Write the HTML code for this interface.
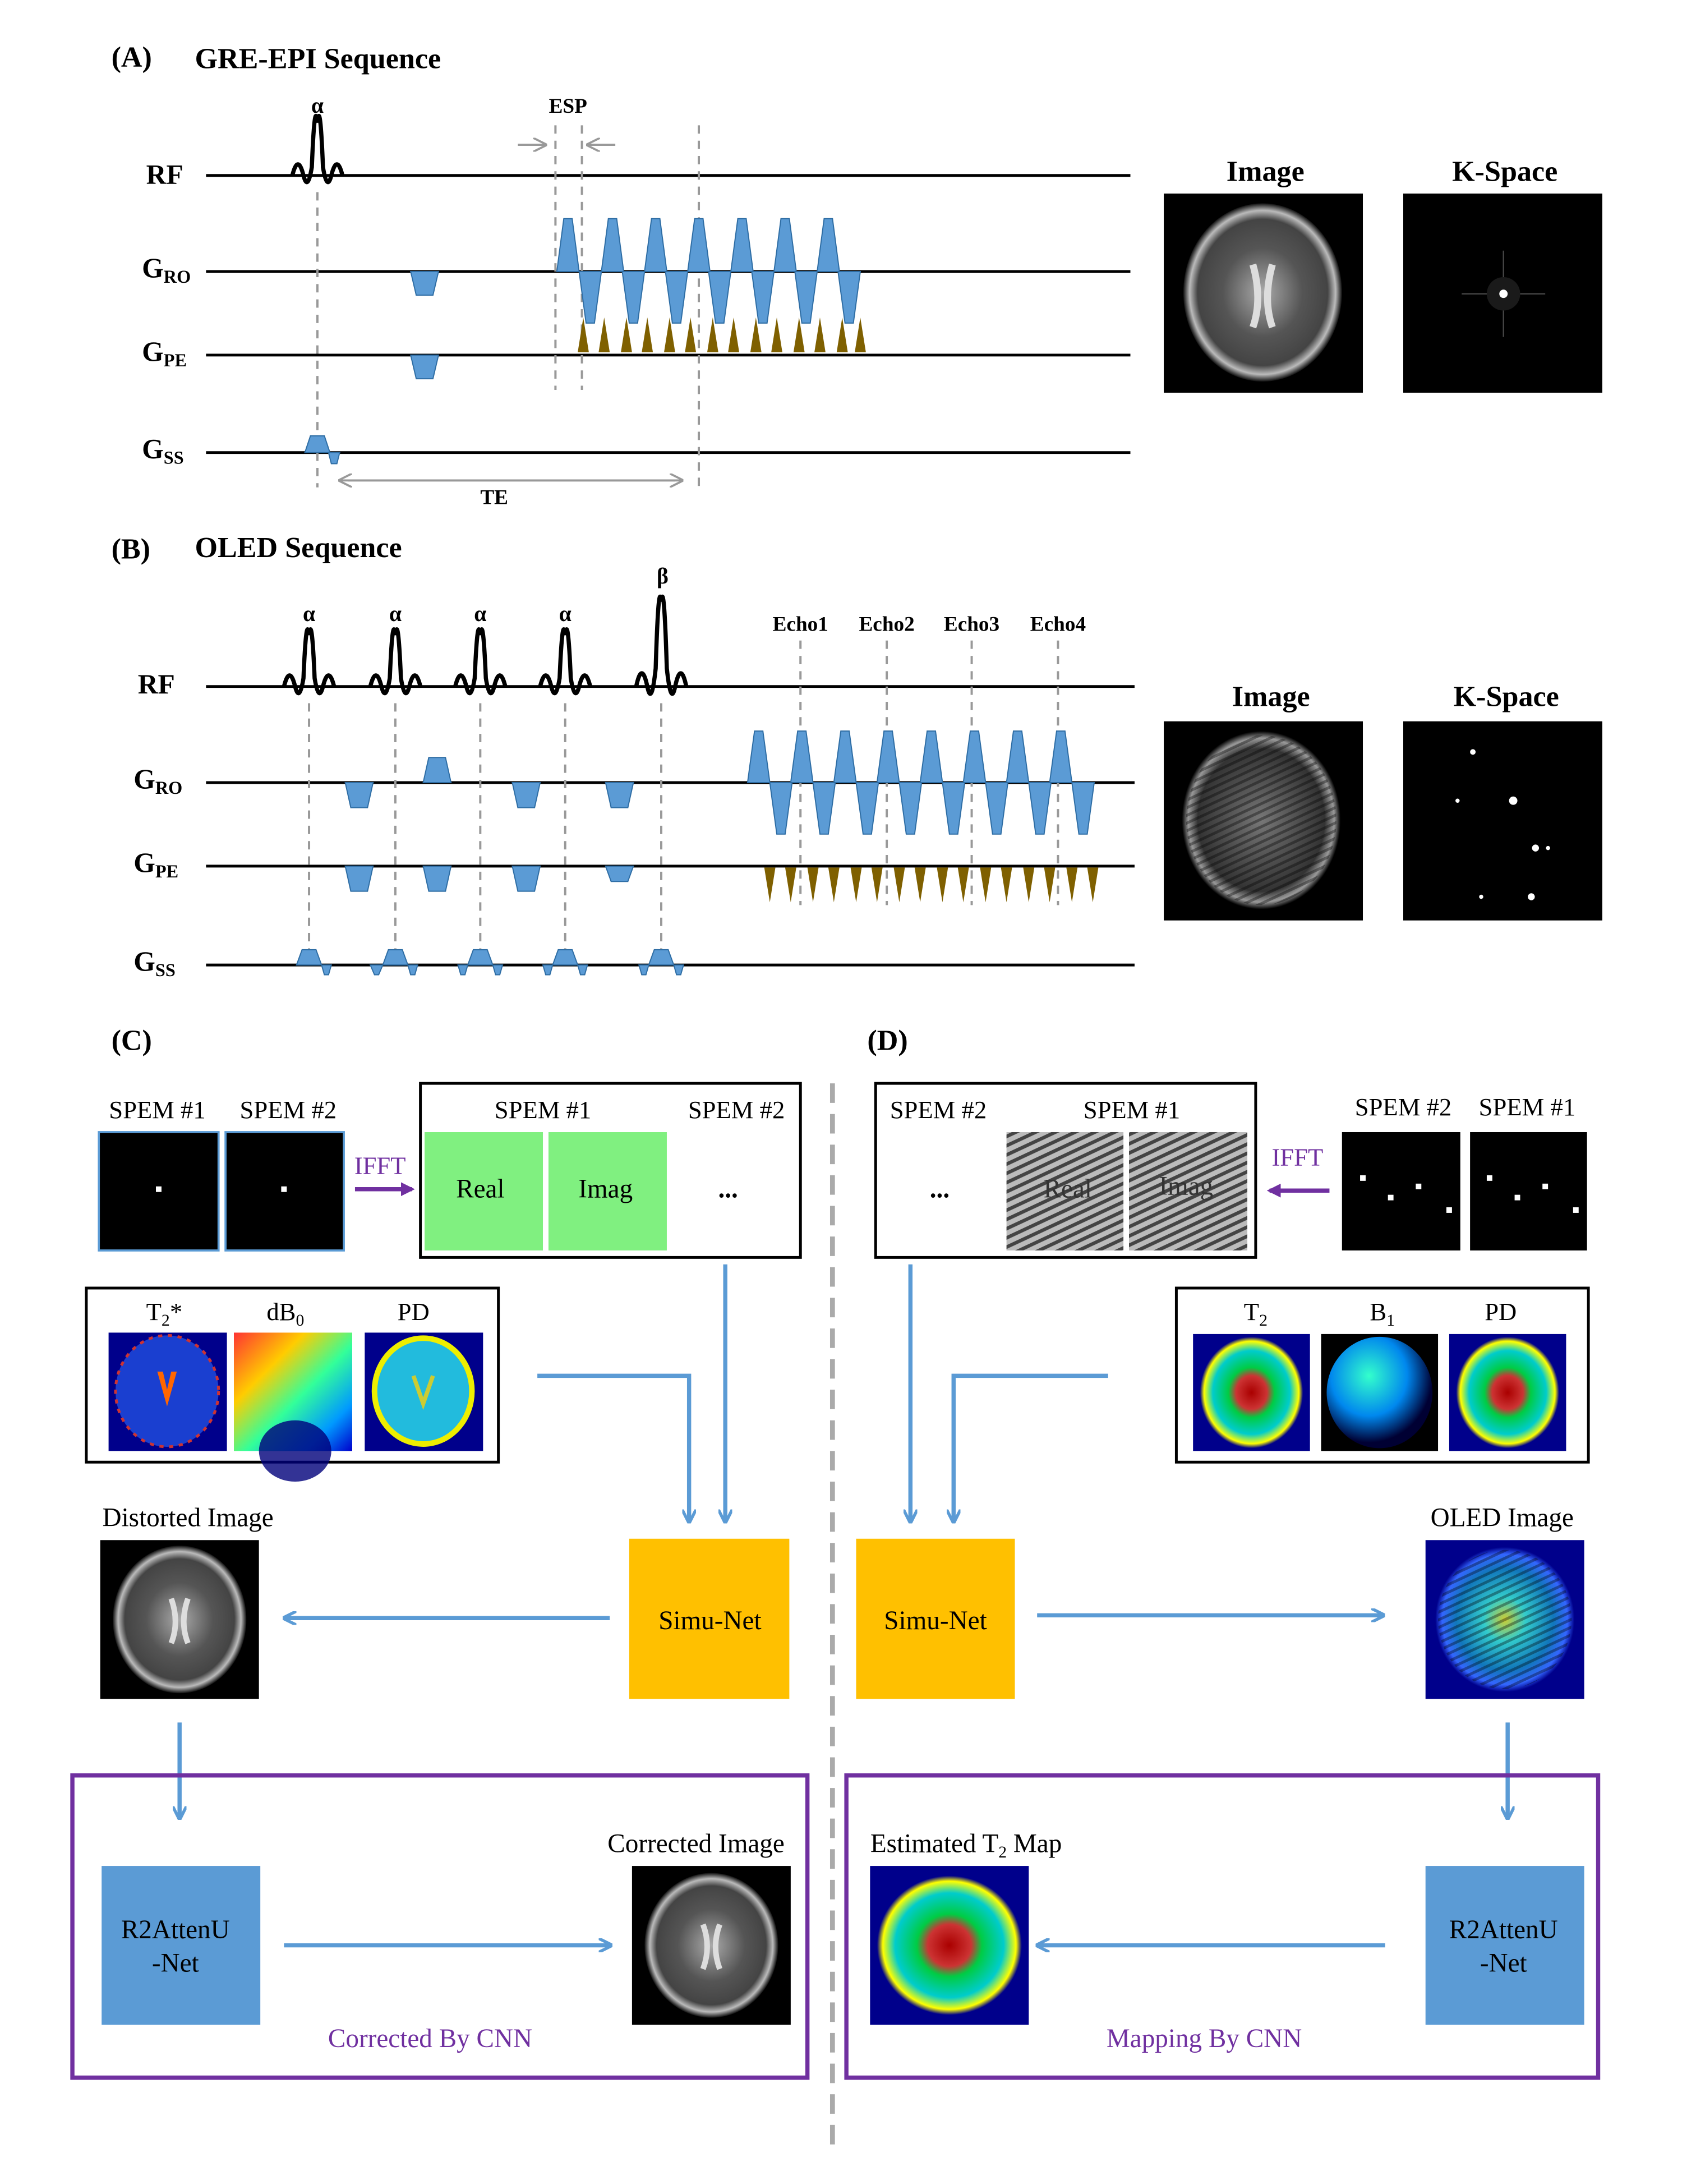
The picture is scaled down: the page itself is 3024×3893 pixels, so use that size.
<!DOCTYPE html>
<html><head><meta charset="utf-8"><style>
html,body{margin:0;padding:0;background:#fff}
svg{display:block}
text{font-family:"Liberation Serif",serif}
</style></head><body>
<svg width="3024" height="3893" viewBox="0 0 1218.3 1568.4" xmlns="http://www.w3.org/2000/svg">
<defs>
<marker id="ab" markerWidth="10" markerHeight="10" refX="9" refY="5" orient="auto" markerUnits="userSpaceOnUse"><path d="M0,0 L10,5 L0,10" fill="none" stroke="#5b9bd5" stroke-width="2.2"/></marker>
<marker id="ap" markerWidth="10" markerHeight="10" refX="8" refY="5" orient="auto" markerUnits="userSpaceOnUse"><path d="M0,0 L10,5 L0,10 z" fill="#7030a0"/></marker>
<marker id="ag" markerWidth="10" markerHeight="10" refX="9" refY="5" orient="auto" markerUnits="userSpaceOnUse"><path d="M0,0 L10,5 L0,10" fill="none" stroke="#999" stroke-width="1.5"/></marker>
<radialGradient id="brain" cx="50%" cy="50%" r="50%"><stop offset="0" stop-color="#aaa"/><stop offset="0.5" stop-color="#555"/><stop offset="0.82" stop-color="#444"/><stop offset="0.92" stop-color="#bbb"/><stop offset="1" stop-color="#111"/></radialGradient>
<radialGradient id="brainb" cx="50%" cy="50%" r="50%"><stop offset="0" stop-color="#777"/><stop offset="0.8" stop-color="#333"/><stop offset="0.92" stop-color="#999"/><stop offset="1" stop-color="#000"/></radialGradient>
<radialGradient id="cmap" cx="50%" cy="50%" r="50%"><stop offset="0" stop-color="#a00"/><stop offset="0.3" stop-color="#c33"/><stop offset="0.45" stop-color="#0c4"/><stop offset="0.75" stop-color="#0cc"/><stop offset="0.92" stop-color="#ff0"/><stop offset="1" stop-color="#00008b"/></radialGradient>
<radialGradient id="cmap2" cx="50%" cy="50%" r="50%"><stop offset="0" stop-color="#cc3"/><stop offset="0.3" stop-color="#3cc"/><stop offset="0.7" stop-color="#17b"/><stop offset="0.9" stop-color="#36f"/><stop offset="1" stop-color="#00008b"/></radialGradient>
<radialGradient id="b1" cx="40%" cy="35%" r="60%"><stop offset="0" stop-color="#3fc"/><stop offset="0.6" stop-color="#08e"/><stop offset="1" stop-color="#003"/></radialGradient>
<linearGradient id="db0" x1="0" y1="0" x2="1" y2="1"><stop offset="0" stop-color="#f33"/><stop offset="0.3" stop-color="#fc0"/><stop offset="0.55" stop-color="#3f9"/><stop offset="0.8" stop-color="#09f"/><stop offset="1" stop-color="#00c"/></linearGradient>
<pattern id="stripe" width="6" height="6" patternUnits="userSpaceOnUse" patternTransform="rotate(-25)"><rect width="6" height="6" fill="#bbb"/><rect width="6" height="2.5" fill="#444"/></pattern>
<pattern id="stripe2" width="5" height="5" patternUnits="userSpaceOnUse" patternTransform="rotate(-25)"><rect width="5" height="5" fill="none"/><rect width="5" height="2" fill="#000" opacity="0.35"/></pattern>
</defs>

<!-- (A) -->
<text x="80" y="48" font-size="21" font-weight="bold">(A)</text>
<text x="140" y="49" font-size="21" font-weight="bold">GRE-EPI Sequence</text>
<g stroke="#000" stroke-width="2">
<line x1="148" y1="126" x2="812" y2="126"/><line x1="148" y1="195" x2="812" y2="195"/>
<line x1="148" y1="255" x2="812" y2="255"/><line x1="148" y1="325" x2="812" y2="325"/>
</g>
<g font-size="20" font-weight="bold"><text x="105" y="132">RF</text>
<text x="102" y="199">G<tspan font-size="13" dy="4">RO</tspan></text>
<text x="102" y="259">G<tspan font-size="13" dy="4">PE</tspan></text>
<text x="102" y="329">G<tspan font-size="13" dy="4">SS</tspan></text></g>
<path d="M210,126 Q214,110 218,126 Q221,138 224,120 Q226,70 228,88 Q230,70 232,120 Q235,138 238,126 Q242,110 246,126" fill="none" stroke="#000" stroke-width="3"/>
<text x="228" y="81" font-size="16" font-weight="bold" text-anchor="middle" font-family="Liberation Sans">α</text>
<g stroke="#999" stroke-width="1.6" stroke-dasharray="6,5" fill="none">
<line x1="228" y1="138" x2="228" y2="350"/><line x1="399" y1="90" x2="399" y2="280"/><line x1="418" y1="90" x2="418" y2="280"/><line x1="502" y1="90" x2="502" y2="350"/></g>
<line x1="372" y1="104" x2="392" y2="104" stroke="#999" stroke-width="1.5" marker-end="url(#ag)"/>
<line x1="442" y1="104" x2="422" y2="104" stroke="#999" stroke-width="1.5" marker-end="url(#ag)"/>
<text x="408" y="81" font-size="15" font-weight="bold" text-anchor="middle">ESP</text>
<line x1="250" y1="345" x2="490" y2="345" stroke="#999" stroke-width="1.5" marker-end="url(#ag)"/>
<line x1="485" y1="345" x2="244" y2="345" stroke="#999" stroke-width="1.5" marker-end="url(#ag)"/>
<text x="355" y="362" font-size="15" font-weight="bold" text-anchor="middle">TE</text>
<g fill="#5b9bd5" stroke="#2e6da4" stroke-width="0.8">
<path d="M295,195 L315,195 L311,212 L299,212 z"/><path d="M295,255 L315,255 L311,272 L299,272 z"/>
<path d="M219,325 L223,313 L233,313 L237,325 z"/><path d="M236,325 L244,325 L242,333 L238,333 z"/>
<path d="M400,195 L405,157 L411,157 L416,195 z"/><path d="M432,195 L437,157 L443,157 L448,195 z"/><path d="M463,195 L468,157 L474,157 L479,195 z"/><path d="M494,195 L499,157 L505,157 L510,195 z"/><path d="M525,195 L530,157 L536,157 L541,195 z"/><path d="M556,195 L561,157 L567,157 L572,195 z"/><path d="M587,195 L592,157 L598,157 L603,195 z"/>
<path d="M416,195 L421,232 L427,232 L432,195 z"/><path d="M447,195 L452,232 L458,232 L463,195 z"/><path d="M478,195 L483,232 L489,232 L494,195 z"/><path d="M509,195 L514,232 L520,232 L525,195 z"/><path d="M540,195 L545,232 L551,232 L556,195 z"/><path d="M571,195 L576,232 L582,232 L587,195 z"/><path d="M602,195 L607,232 L613,232 L618,195 z"/>
</g>
<g fill="#7f6000">
<path d="M415,253 L419,228 L423,253z"/><path d="M430,253 L434,228 L438,253z"/><path d="M446,253 L450,228 L454,253z"/><path d="M461,253 L465,228 L469,253z"/><path d="M477,253 L481,228 L485,253z"/><path d="M492,253 L496,228 L500,253z"/><path d="M508,253 L512,228 L516,253z"/><path d="M523,253 L527,228 L531,253z"/><path d="M539,253 L543,228 L547,253z"/><path d="M554,253 L558,228 L562,253z"/><path d="M570,253 L574,228 L578,253z"/><path d="M585,253 L589,228 L593,253z"/><path d="M601,253 L605,228 L609,253z"/><path d="M614,253 L618,228 L622,253z"/>
</g>
<text x="909" y="130" font-size="21" font-weight="bold" text-anchor="middle">Image</text>
<text x="1081" y="130" font-size="21" font-weight="bold" text-anchor="middle">K-Space</text>
<rect x="836" y="139" width="143" height="143" fill="#000"/>
<ellipse cx="907" cy="210" rx="57" ry="64" fill="url(#brain)"/>
<path d="M900,190 Q907,215 900,235 M914,190 Q907,215 914,235" stroke="#ddd" stroke-width="5" fill="none"/>
<rect x="1008" y="139" width="143" height="143" fill="#000"/>
<g stroke="#444" stroke-width="1"><line x1="1080" y1="180" x2="1080" y2="242"/><line x1="1050" y1="211" x2="1110" y2="211"/></g>
<circle cx="1080" cy="211" r="12" fill="#1a1a1a"/><circle cx="1080" cy="211" r="3" fill="#fff"/>

<!-- (B) -->
<text x="80" y="401" font-size="21" font-weight="bold">(B)</text>
<text x="140" y="400" font-size="21" font-weight="bold">OLED Sequence</text>
<g stroke="#000" stroke-width="2">
<line x1="148" y1="493" x2="815" y2="493"/><line x1="148" y1="562" x2="815" y2="562"/>
<line x1="148" y1="622" x2="815" y2="622"/><line x1="148" y1="693" x2="815" y2="693"/></g>
<g font-size="20" font-weight="bold"><text x="99" y="498">RF</text>
<text x="96" y="566">G<tspan font-size="13" dy="4">RO</tspan></text>
<text x="96" y="626">G<tspan font-size="13" dy="4">PE</tspan></text>
<text x="96" y="697">G<tspan font-size="13" dy="4">SS</tspan></text></g>
<g fill="none" stroke="#000" stroke-width="3">
<path d="M204,493 Q208,477 212,493 Q215,505 218,487 Q220,440 222,456 Q224,440 226,487 Q229,505 232,493 Q236,477 240,493"/>
<path d="M266,493 Q270,477 274,493 Q277,505 280,487 Q282,440 284,456 Q286,440 288,487 Q291,505 294,493 Q298,477 302,493"/>
<path d="M327,493 Q331,477 335,493 Q338,505 341,487 Q343,440 345,456 Q347,440 349,487 Q352,505 355,493 Q359,477 363,493"/>
<path d="M388,493 Q392,477 396,493 Q399,505 402,487 Q404,440 406,456 Q408,440 410,487 Q413,505 416,493 Q420,477 424,493"/>
<path d="M457,493 Q461,474 465,493 Q468,508 471,480 Q473,415 475,432 Q477,415 479,480 Q482,508 485,493 Q489,474 493,493"/></g>
<g font-size="16" font-weight="bold" text-anchor="middle" font-family="Liberation Sans">
<text x="222" y="446">α</text><text x="284" y="446">α</text><text x="345" y="446">α</text><text x="406" y="446">α</text><text x="476" y="419">β</text></g>
<g font-size="15" font-weight="bold" text-anchor="middle"><text x="575" y="453">Echo1</text><text x="637" y="453">Echo2</text><text x="698" y="453">Echo3</text><text x="760" y="453">Echo4</text></g>
<g stroke="#999" stroke-width="1.6" stroke-dasharray="6,5">
<line x1="222" y1="505" x2="222" y2="688"/><line x1="284" y1="505" x2="284" y2="688"/><line x1="345" y1="505" x2="345" y2="688"/><line x1="406" y1="505" x2="406" y2="688"/><line x1="475" y1="505" x2="475" y2="688"/>
<line x1="575" y1="460" x2="575" y2="650"/><line x1="637" y1="460" x2="637" y2="650"/><line x1="698" y1="460" x2="698" y2="650"/><line x1="760" y1="460" x2="760" y2="650"/></g>
<g fill="#5b9bd5" stroke="#2e6da4" stroke-width="0.8">
<path d="M248,562 L268,562 L264,580 L252,580z"/><path d="M368,562 L388,562 L384,580 L372,580z"/><path d="M435,562 L455,562 L451,580 L439,580z"/>
<path d="M304,562 L308,544 L320,544 L324,562z"/>
<path d="M248,622 L268,622 L264,640 L252,640z"/><path d="M304,622 L324,622 L320,640 L308,640z"/><path d="M368,622 L388,622 L384,640 L372,640z"/><path d="M435,622 L455,622 L451,633 L439,633z"/>
<path d="M213,693 L217,682 L227,682 L231,693z"/><path d="M231,693 L238,693 L236,700 L233,700z"/>
<path d="M275,693 L279,682 L289,682 L293,693z"/><path d="M266,693 L275,693 L272,700 L269,700z"/><path d="M293,693 L300,693 L298,700 L295,700z"/>
<path d="M336,693 L340,682 L350,682 L354,693z"/><path d="M354,693 L361,693 L359,700 L356,700z"/><path d="M329,693 L336,693 L334,700 L331,700z"/>
<path d="M397,693 L401,682 L411,682 L415,693z"/><path d="M415,693 L422,693 L420,700 L417,700z"/><path d="M390,693 L397,693 L395,700 L392,700z"/>
<path d="M466,693 L470,682 L480,682 L484,693z"/><path d="M484,693 L491,693 L489,700 L486,700z"/><path d="M459,693 L466,693 L464,700 L461,700z"/>
<path d="M537,562 L542,525 L548,525 L553,562z"/><path d="M568,562 L573,525 L579,525 L584,562z"/><path d="M599,562 L604,525 L610,525 L615,562z"/><path d="M630,562 L635,525 L641,525 L646,562z"/><path d="M661,562 L666,525 L672,525 L677,562z"/><path d="M692,562 L697,525 L703,525 L708,562z"/><path d="M723,562 L728,525 L734,525 L739,562z"/><path d="M754,562 L759,525 L765,525 L770,562z"/>
<path d="M553,562 L558,599 L564,599 L569,562z"/><path d="M584,562 L589,599 L595,599 L600,562z"/><path d="M615,562 L620,599 L626,599 L631,562z"/><path d="M646,562 L651,599 L657,599 L662,562z"/><path d="M677,562 L682,599 L688,599 L693,562z"/><path d="M708,562 L713,599 L719,599 L724,562z"/><path d="M739,562 L744,599 L750,599 L755,562z"/><path d="M770,562 L775,599 L781,599 L786,562z"/>
</g>
<g fill="#7f6000">
<path d="M549,623 L553,648 L557,623z"/><path d="M564,623 L568,648 L572,623z"/><path d="M580,623 L584,648 L588,623z"/><path d="M595,623 L599,648 L603,623z"/><path d="M611,623 L615,648 L619,623z"/><path d="M626,623 L630,648 L634,623z"/><path d="M642,623 L646,648 L650,623z"/><path d="M657,623 L661,648 L665,623z"/><path d="M673,623 L677,648 L681,623z"/><path d="M688,623 L692,648 L696,623z"/><path d="M704,623 L708,648 L712,623z"/><path d="M719,623 L723,648 L727,623z"/><path d="M735,623 L739,648 L743,623z"/><path d="M750,623 L754,648 L758,623z"/><path d="M766,623 L770,648 L774,623z"/><path d="M781,623 L785,648 L789,623z"/>
</g>
<text x="913" y="507" font-size="21" font-weight="bold" text-anchor="middle">Image</text>
<text x="1082" y="507" font-size="21" font-weight="bold" text-anchor="middle">K-Space</text>
<rect x="836" y="518" width="143" height="143" fill="#000"/>
<ellipse cx="906" cy="589" rx="57" ry="64" fill="url(#brainb)"/>
<ellipse cx="906" cy="589" rx="54" ry="61" fill="url(#stripe2)"/>
<rect x="1008" y="518" width="143" height="143" fill="#000"/>
<g fill="#fff"><circle cx="1058" cy="540" r="2"/><circle cx="1087" cy="575" r="3"/><circle cx="1103" cy="609" r="2.5"/><circle cx="1047" cy="575" r="1.5"/><circle cx="1112" cy="609" r="1.5"/><circle cx="1100" cy="644" r="2.5"/><circle cx="1064" cy="644" r="1.5"/></g>

<!-- divider -->
<line x1="598" y1="778" x2="598" y2="1542" stroke="#aaa" stroke-width="3.5" stroke-dasharray="14,8"/>

<!-- (C) -->
<text x="80" y="754" font-size="21" font-weight="bold">(C)</text>
<text x="623" y="754" font-size="21" font-weight="bold">(D)</text>
<g font-size="18" text-anchor="middle">
<text x="113" y="803">SPEM #1</text><text x="207" y="803">SPEM #2</text>
<text x="390" y="803">SPEM #1</text><text x="529" y="803">SPEM #2</text>
<text x="674" y="803">SPEM #2</text><text x="813" y="803">SPEM #1</text>
<text x="1008" y="801">SPEM #2</text><text x="1097" y="801">SPEM #1</text>
</g>
<rect x="71" y="813" width="86" height="85" fill="#000" stroke="#5b9bd5" stroke-width="1.5"/>
<rect x="162" y="813" width="85" height="85" fill="#000" stroke="#5b9bd5" stroke-width="1.5"/>
<rect x="112" y="852" width="4" height="4" fill="#fff"/><rect x="202" y="852" width="4" height="4" fill="#fff"/>
<text x="273" y="843" font-size="18" fill="#7030a0" text-anchor="middle">IFFT</text>
<line x1="255" y1="854" x2="296" y2="854" stroke="#7030a0" stroke-width="3" marker-end="url(#ap)"/>
<rect x="302" y="778" width="273" height="125" fill="none" stroke="#000" stroke-width="2"/>
<rect x="305" y="813" width="85" height="85" fill="#80f080"/><rect x="394" y="813" width="85" height="85" fill="#80f080"/>
<g font-size="19" text-anchor="middle"><text x="345" y="860">Real</text><text x="435" y="860">Imag</text><text x="523" y="860" font-weight="bold">...</text></g>

<rect x="62" y="925" width="296" height="125" fill="none" stroke="#000" stroke-width="2"/>
<g font-size="18" text-anchor="middle"><text x="118" y="948">T<tspan font-size="12" dy="4">2</tspan><tspan dy="-4">*</tspan></text><text x="205" y="948">dB<tspan font-size="12" dy="4">0</tspan></text><text x="297" y="948">PD</text></g>
<rect x="78" y="957" width="85" height="85" fill="#00008b"/><ellipse cx="120" cy="999" rx="37" ry="40" fill="#1a3fd0"/><ellipse cx="120" cy="999" rx="37" ry="40" fill="none" stroke="#c33" stroke-width="2" stroke-dasharray="3,4"/>
<path d="M113,985 L120,1010 L127,985 L123,985 L120,998 L117,985z" fill="#f60"/>
<rect x="168" y="957" width="85" height="85" fill="url(#db0)"/><ellipse cx="212" cy="1042" rx="26" ry="22" fill="#00007a" opacity="0.8"/>
<rect x="262" y="957" width="85" height="85" fill="#00008b"/><ellipse cx="304" cy="999" rx="37" ry="40" fill="#ee0"/><ellipse cx="304" cy="999" rx="33" ry="36" fill="#2bd"/><path d="M297,988 L304,1008 L311,988" stroke="#cc3" stroke-width="3" fill="none"/>

<g stroke="#5b9bd5" stroke-width="3" fill="none">
<polyline points="386,988 495,988 495,1093" marker-end="url(#ab)"/>
<line x1="521" y1="908" x2="521" y2="1093" marker-end="url(#ab)"/>
<line x1="438" y1="1162" x2="204" y2="1162" marker-end="url(#ab)"/>
<line x1="129" y1="1237" x2="129" y2="1306" marker-end="url(#ab)"/>
<line x1="204" y1="1397" x2="439" y2="1397" marker-end="url(#ab)"/>
<line x1="654" y1="908" x2="654" y2="1093" marker-end="url(#ab)"/>
<polyline points="796,988 685,988 685,1093" marker-end="url(#ab)"/>
<line x1="745" y1="1160" x2="994" y2="1160" marker-end="url(#ab)"/>
<line x1="1083" y1="1237" x2="1083" y2="1306" marker-end="url(#ab)"/>
<line x1="995" y1="1397" x2="745" y2="1397" marker-end="url(#ab)"/>
</g>
<rect x="452" y="1105" width="115" height="115" fill="#ffc000"/>
<text x="510" y="1170" font-size="19" text-anchor="middle">Simu-Net</text>
<text x="135" y="1096" font-size="19" text-anchor="middle">Distorted Image</text>
<rect x="72" y="1106" width="114" height="114" fill="#000"/><ellipse cx="129" cy="1163" rx="48" ry="53" fill="url(#brain)"/>
<path d="M123,1148 Q129,1165 123,1180 M135,1148 Q129,1165 135,1180" stroke="#ddd" stroke-width="4" fill="none"/>
<rect x="52" y="1275" width="528" height="217" fill="none" stroke="#7030a0" stroke-width="3"/>
<rect x="73" y="1340" width="114" height="114" fill="#5b9bd5"/>
<g font-size="19" text-anchor="middle"><text x="126" y="1392">R2AttenU</text><text x="126" y="1416">-Net</text>
<text x="500" y="1330">Corrected Image</text></g>
<rect x="454" y="1340" width="114" height="114" fill="#000"/><ellipse cx="511" cy="1397" rx="48" ry="52" fill="url(#brain)"/>
<path d="M505,1382 Q511,1398 505,1414 M517,1382 Q511,1398 517,1414" stroke="#ddd" stroke-width="4" fill="none"/>
<text x="309" y="1470" font-size="19" fill="#7030a0" text-anchor="middle">Corrected By CNN</text>

<!-- (D) -->
<rect x="629" y="778" width="273" height="125" fill="none" stroke="#000" stroke-width="2"/>
<text x="675" y="860" font-size="19" font-weight="bold" text-anchor="middle">...</text>
<rect x="723" y="813" width="84" height="85" fill="url(#stripe)"/><rect x="811" y="813" width="85" height="85" fill="url(#stripe)"/>
<g font-size="19" text-anchor="middle" fill="#333"><text x="767" y="860">Real</text><text x="852" y="858">Imag</text></g>
<text x="932" y="837" font-size="18" fill="#7030a0" text-anchor="middle">IFFT</text>
<line x1="955" y1="855" x2="912" y2="855" stroke="#7030a0" stroke-width="3" marker-end="url(#ap)"/>
<rect x="964" y="813" width="85" height="85" fill="#000"/><rect x="1056" y="813" width="84" height="85" fill="#000"/>
<g fill="#fff"><rect x="977" y="844" width="4" height="4"/><rect x="997" y="858" width="4" height="4"/><rect x="1017" y="850" width="4" height="4"/><rect x="1039" y="867" width="4" height="4"/>
<rect x="1068" y="844" width="4" height="4"/><rect x="1088" y="858" width="4" height="4"/><rect x="1108" y="850" width="4" height="4"/><rect x="1130" y="867" width="4" height="4"/></g>
<rect x="845" y="925" width="296" height="125" fill="none" stroke="#000" stroke-width="2"/>
<g font-size="18" text-anchor="middle"><text x="902" y="948">T<tspan font-size="12" dy="4">2</tspan></text><text x="993" y="948">B<tspan font-size="12" dy="4">1</tspan></text><text x="1078" y="948">PD</text></g>
<rect x="857" y="958" width="84" height="84" fill="#00008b"/><ellipse cx="899" cy="1000" rx="37" ry="40" fill="url(#cmap)"/>
<rect x="949" y="958" width="84" height="84" fill="#000"/><ellipse cx="991" cy="1000" rx="38" ry="40" fill="url(#b1)"/>
<rect x="1041" y="958" width="84" height="84" fill="#00008b"/><ellipse cx="1083" cy="1000" rx="37" ry="40" fill="url(#cmap)"/>
<rect x="615" y="1105" width="114" height="115" fill="#ffc000"/>
<text x="672" y="1170" font-size="19" text-anchor="middle">Simu-Net</text>
<text x="1079" y="1096" font-size="19" text-anchor="middle">OLED Image</text>
<rect x="1024" y="1106" width="114" height="114" fill="#00008b"/><ellipse cx="1081" cy="1163" rx="50" ry="52" fill="url(#cmap2)"/>
<ellipse cx="1081" cy="1163" rx="48" ry="50" fill="url(#stripe2)"/>
<rect x="608" y="1275" width="540" height="217" fill="none" stroke="#7030a0" stroke-width="3"/>
<rect x="1024" y="1340" width="114" height="114" fill="#5b9bd5"/>
<g font-size="19" text-anchor="middle"><text x="1080" y="1392">R2AttenU</text><text x="1080" y="1416">-Net</text>
<text x="694" y="1330">Estimated T<tspan font-size="12" dy="4">2</tspan><tspan dy="-4"> Map</tspan></text></g>
<rect x="625" y="1340" width="114" height="114" fill="#00008b"/><ellipse cx="682" cy="1397" rx="52" ry="50" fill="url(#cmap)"/>
<text x="865" y="1470" font-size="19" fill="#7030a0" text-anchor="middle">Mapping By CNN</text>
</svg>
</body></html>
